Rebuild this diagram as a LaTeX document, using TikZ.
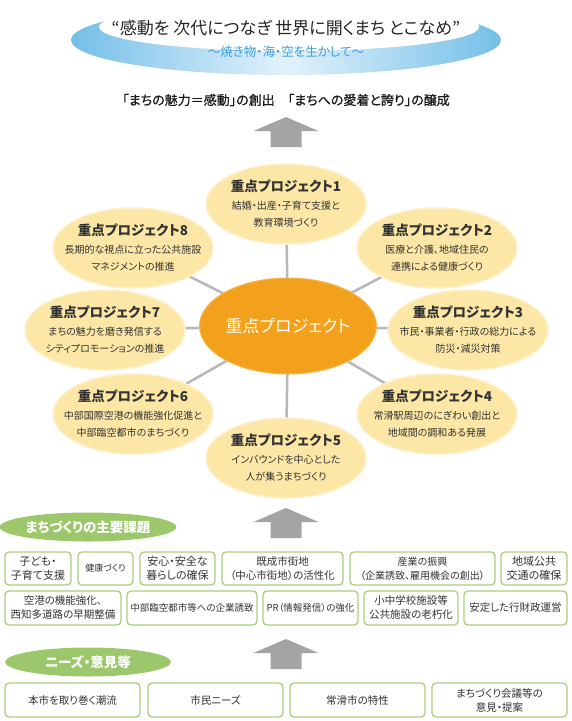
\documentclass[tikz,border=0pt]{standalone}
\usepackage{fontspec}
\newfontfamily\jp[RawFeature=+palt]{Noto Sans CJK JP}
\newfontfamily\jpm[RawFeature=+palt,FakeBold=0.6]{Noto Sans CJK JP}
\usetikzlibrary{shapes.geometric}
\definecolor{txt}{HTML}{333333}
\definecolor{satfill}{HTML}{FCE7A6}
\definecolor{satedge}{HTML}{FDF0CA}
\definecolor{orng}{HTML}{F3A11D}
\definecolor{orngedge}{HTML}{F7B850}
\definecolor{grn}{HTML}{9CC76A}
\definecolor{grnline}{HTML}{A8CF7E}
\definecolor{spokec}{HTML}{B8B8B8}
\definecolor{arrc}{HTML}{A4A4A6}
\definecolor{skyb}{HTML}{74BFE8}
\definecolor{skyl}{HTML}{E2F2FB}
\definecolor{subb}{HTML}{3F9BD6}
\pgfdeclarelayer{bg}
\pgfsetlayers{bg,main}
\tikzset{
  every node/.style={font=\jp, text=txt},
  satell/.style={ellipse, fill=satfill, draw=satedge, line width=1.5pt, minimum width=160pt, minimum height=80pt, inner sep=0pt},
  ptitle/.style={font=\jp\bfseries\fontsize{13.5pt}{15pt}\selectfont, inner sep=0pt},
  pline/.style={font=\jp\fontsize{10pt}{12pt}\selectfont, inner sep=0pt},
  box/.style={draw=grnline, line width=1.3pt, rounded corners=4pt, fill=white, inner sep=0pt, align=center},
  glabel/.style={ellipse, fill=grn, minimum width=166pt, minimum height=29pt, inner sep=0pt, text=white, font=\jp\bfseries\fontsize{13.5pt}{15pt}\selectfont},
  spoke/.style={draw=spokec, line width=2.5pt},
}
\newcommand\proj[6]{%
  \node[satell] (#1) at (#2,#3) {};
  \node[ptitle] (#1t) at (#2,#3-18) {#4};
  \node[pline] (#1a) at (#2,#3+2) {#5};
  \node[pline] (#1b) at (#2,#3+19) {#6};
}
\newcommand\bx[7]{%
  \node[box, minimum width={#4-#2}, minimum height={#5-#3}, font=\jp\fontsize{#6pt}{14pt}\selectfont] (#1) at ({(#2+#4)/2},{(#3+#5)/2}) {#7};
}
\newcommand\bigarr[2]{%
  \fill[arrc] (#1,#2) -- (#1+32.5,#2+14) -- (#1+15.5,#2+14) -- (#1+15.5,#2+30) -- (#1-15.5,#2+30) -- (#1-15.5,#2+14) -- (#1-32.5,#2+14) -- cycle;
}
\begin{document}
\begin{tikzpicture}[x=1pt,y=-1pt]
\useasboundingbox (0,0) rectangle (572,721);
\begin{pgfonlayer}{bg}
\fill[white] (0,0) rectangle (572,721);
\end{pgfonlayer}
% top ellipse
\shade[left color=skyb, right color=skyb, middle color=skyl] (286,40) ellipse [x radius=215pt, y radius=35pt];
\fill[white] (289,27) ellipse [x radius=190pt, y radius=24pt];
\node[font=\jp\fontsize{17pt}{18pt}\selectfont, text=black!85] (ttl) at (286,28) {“感動を 次代につなぎ 世界に開くまち とこなめ”};
\node[font=\jp\fontsize{12.5pt}{14pt}\selectfont, text=subb] (sub) at (286,52) {～焼き物・海・空を生かして～};
\node[font=\jpm\fontsize{13pt}{14pt}\selectfont, text=black!90] (goal) at (286,100) {「まちの魅力＝感動」の創出　「まちへの愛着と誇り」の醸成};
\bigarr{286}{117}
% projects
\node[ellipse, fill=orng, draw=orngedge, line width=1pt, minimum width=166pt, minimum height=96pt, inner sep=0pt, text=white, font=\jp\fontsize{17pt}{18pt}\selectfont] (c) at (288,326) {重点プロジェクト};
\proj{p1}{286}{204}{重点プロジェクト1}{結婚・出産・子育て支援と}{教育環境づくり}
\proj{p2}{437}{248}{重点プロジェクト2}{医療と介護、地域住民の}{連携による健康づくり}
\proj{p3}{468}{330}{重点プロジェクト3}{市民・事業者・行政の総力による}{防災・減災対策}
\proj{p4}{437}{414}{重点プロジェクト4}{常滑駅周辺のにぎわい創出と}{地域間の調和ある発展}
\proj{p5}{286}{458}{重点プロジェクト5}{インバウンドを中心とした}{人が集うまちづくり}
\proj{p6}{133}{414}{重点プロジェクト6}{中部国際空港の機能強化促進と}{中部臨空都市のまちづくり}
\proj{p7}{105}{330}{重点プロジェクト7}{まちの魅力を磨き発信する}{シティプロモーションの推進}
\proj{p8}{133}{248}{重点プロジェクト8}{長期的な視点に立った公共施設}{マネジメントの推進}
\begin{pgfonlayer}{bg}
\foreach \p in {p1,p2,p3,p4,p5,p6,p7,p8} \draw[spoke] (c.center) -- (\p.center);
\end{pgfonlayer}
% lower section
\bigarr{286}{508}
\node[glabel] (g1) at (88,527) {まちづくりの主要課題};
\bx{b1}{5}{552}{71}{585}{11}{子ども・\\子育て支援}
\bx{b2}{78}{552}{133}{585}{9}{健康づくり}
\bx{b3}{140}{552}{215}{585}{11}{安心・安全な\\暮らしの確保}
\bx{b4}{222}{552}{343}{585}{10.5}{既成市街地\\（中心市街地）の活性化}
\bx{b5}{350}{552}{495}{585}{10}{産業の振興\\（企業誘致、雇用機会の創出）}
\bx{b6}{501}{552}{567}{585}{11}{地域公共\\交通の確保}
\bx{c1}{5}{591}{121}{625}{10.5}{空港の機能強化、\\西知多道路の早期整備}
\bx{c2}{127}{591}{257}{625}{9.5}{中部臨空都市等への企業誘致}
\bx{c3}{263}{591}{358}{625}{9.5}{PR（情報発信）の強化}
\bx{c4}{364}{591}{458}{625}{10.5}{小中学校施設等\\公共施設の老朽化}
\bx{c5}{464}{591}{567}{625}{10.5}{安定した行財政運営}
\bigarr{286}{639}
\node[glabel] (g2) at (88,662) {ニーズ・意見等};
\bx{d1}{5}{683}{140}{717}{10.5}{本市を取り巻く潮流}
\bx{d2}{148}{683}{283}{717}{10.5}{市民ニーズ}
\bx{d3}{290}{683}{425}{717}{10.5}{常滑市の特性}
\bx{d4}{432}{683}{567}{717}{10.5}{まちづくり会議等の\\意見・提案}
\end{tikzpicture}
\end{document}
